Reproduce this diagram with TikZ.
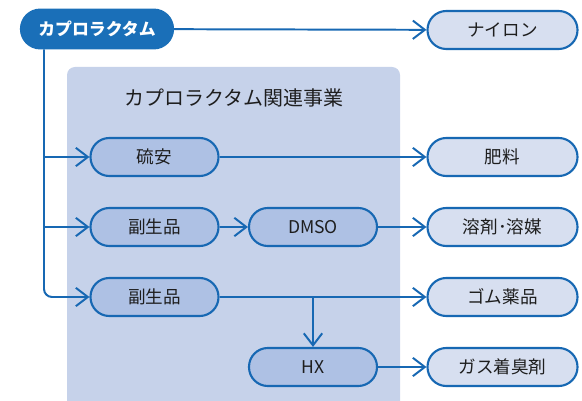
\documentclass[tikz,border=0pt]{standalone}
\usepackage{fontspec}
\setmainfont{Noto Sans CJK JP}
\usetikzlibrary{arrows.meta}
\definecolor{lineblue}{HTML}{1768B3}
\definecolor{topblue}{HTML}{1A6FB8}
\definecolor{panelfill}{HTML}{C6D2EA}
\definecolor{innerfill}{HTML}{AEC1E4}
\definecolor{outerfill}{HTML}{D7DFF0}
\definecolor{textgray}{HTML}{1E1E1E}
\begin{document}
\begin{tikzpicture}
                    \tikzset{
                        pill/.style={draw=lineblue, line width=1.5pt, rounded corners=0.47cm, minimum height=0.95cm, text=textgray, font=\fontsize{12.5}{14}\selectfont},
                        inner/.style={pill, fill=innerfill, minimum width=3.2cm},
                        outer/.style={pill, fill=outerfill, minimum width=3.75cm},
                        arc/.style={draw=lineblue, line width=1.4pt, -{Straight Barb[length=3mm,width=4.6mm,line width=1.4pt]}}
                    }
                    \useasboundingbox (0,0) rectangle (14.55,-10.025);
                    \fill[panelfill, rounded corners=0.2cm] (1.675,-1.675) rectangle (10.0,-10.4);
                    \node[text=textgray, font=\fontsize{14.2}{16}\selectfont] (title) at (5.85,-2.45) {カプロラクタム関連事業};
                    \draw node[pill, fill=topblue, draw=topblue, text=white, font=\fontsize{12}{14}\bfseries, minimum width=3.8cm, minimum height=0.97cm, rounded corners=0.48cm] (cap) at (2.425,-0.725) {カプロラクタム};
                    \draw node[outer] (nylon) at (12.5625,-0.75) {ナイロン};
                    \draw node[inner] (ryuan) at (3.8625,-3.925) {硫安};
                    \draw node[outer] (hiryo) at (12.5625,-3.925) {肥料};
                    \draw node[inner] (fuku1) at (3.8625,-5.675) {副生品};
                    \draw node[inner] (dmso) at (7.825,-5.675) {DMSO};
                    \draw node[outer] (yozai) at (12.5625,-5.675) {溶剤･溶媒};
                    \draw node[inner] (fuku2) at (3.8625,-7.425) {副生品};
                    \draw node[outer] (gomu) at (12.5625,-7.425) {ゴム薬品};
                    \draw node[inner] (hx) at (7.825,-9.175) {HX};
                    \draw node[outer] (gas) at (12.5625,-9.175) {ガス着臭剤};
                    \coordinate (trunk) at (1.1,-0.725);
                    \draw[arc, rounded corners=0.2cm] (cap.south -| trunk) |- (fuku2);
                    \foreach \x/\y in {%
                        cap/nylon,ryuan/hiryo,fuku1/dmso,dmso/yozai,fuku2/gomu,hx/gas%
                    }{
                    \draw (\x) edge[arc] (\y);
                    }
                    \draw[arc] (trunk |- ryuan) -- (ryuan);
                    \draw[arc] (trunk |- fuku1) -- (fuku1);
                    \draw[arc] (fuku2 -| hx) -- (hx);
                    \end{tikzpicture}
\end{document}
